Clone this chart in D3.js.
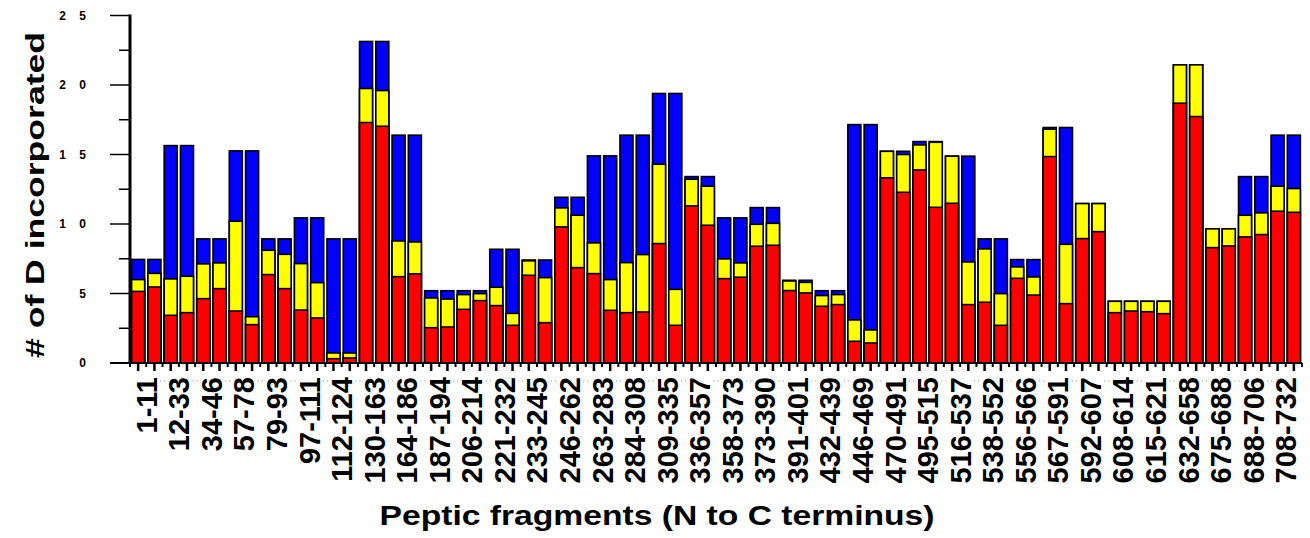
<!DOCTYPE html>
<html>
<head>
<meta charset="utf-8">
<script src="https://cdn.jsdelivr.net/npm/d3@7"></script>
<style>
  body { margin: 0; background: #fff; }
  text { font-family: "Liberation Sans", Arial, sans-serif; font-weight: bold; }
</style>
</head>
<body>
<div id="vis"></div>
<script>
// peptic fragments, two bars each
const fragments = ["1-11","12-33","34-46","57-78","79-93","97-111","112-124","130-163","164-186",
  "187-194","206-214","221-232","233-245","246-262","263-283","284-308","309-335","336-357",
  "358-373","373-390","391-401","432-439","446-469","470-491","495-515","516-537","538-552",
  "556-566","567-591","592-607","608-614","615-621","632-658","675-688","688-706","708-732"];

// cumulative levels (# of D), bar by bar
const redLevel = [5.15,5.47, 3.43,3.62, 4.63,5.35, 3.74,2.76, 6.36,5.35, 3.81,3.24, 0.31,0.36,
  17.3,17.03, 6.21,6.41, 2.54,2.59, 3.86,4.49, 4.13,2.71, 6.31,2.9, 9.79,6.86, 6.43,3.79,
  3.62,3.67, 8.59,2.71, 11.3,9.91, 6.07,6.17, 8.4,8.47, 5.21,5.04, 4.08,4.2, 1.56,1.44,
  13.32,12.28, 13.89,11.2, 11.49,4.2, 4.37,2.71, 6.09,4.89, 14.85,4.27, 8.95,9.45,
  3.62,3.74, 3.69,3.55, 18.69,17.73, 8.3,8.42, 9.07,9.24, 10.92,10.84];

const yellowLevel = [6.0,6.45, 6.05,6.24, 7.13,7.2, 10.2,3.33, 8.11,7.82, 7.15,5.78, 0.72,0.72,
  19.75,19.6, 8.78,8.71, 4.68,4.6, 4.92,4.99, 5.45,3.57, 7.35,6.14, 11.16,10.63, 8.64,6.0,
  7.22,7.8, 14.3,5.3, 13.22,12.72, 7.49,7.2, 9.98,10.05, 5.9,5.8, 4.85,4.92, 3.1,2.38,
  15.23,15.0, 15.69,15.88, 14.88,7.27, 8.21,4.99, 6.91,6.19, 16.82,8.54, 11.47,11.47,
  4.44,4.44, 4.44,4.44, 21.45,21.45, 9.65,9.65, 10.63,10.8, 12.72,12.55];

const blueLevel = [7.45,7.45, 15.64,15.64, 8.93,8.93, 15.26,15.26, 8.93,8.93, 10.44,10.44, 8.93,8.93,
  23.13,23.13, 16.39,16.39, 5.2,5.2, 5.2,5.2, 8.18,8.18, 7.41,7.41, 11.92,11.92, 14.9,14.9,
  16.39,16.39, 19.39,19.39, 13.41,13.41, 10.44,10.44, 11.18,11.18, 5.95,5.95, 5.2,5.2, 17.15,17.15,
  15.23,15.23, 15.93,15.93, 14.88,14.88, 8.93,8.93, 7.44,7.44, 16.94,16.94, 11.47,11.47,
  4.44,4.44, 4.44,4.44, 21.45,21.45, 9.65,9.65, 13.41,13.41, 16.39,16.39];

const yTicks = [0, 5, 10, 15, 20, 25];

var width = 1310, height = 538;

var svg = d3.select('#vis').append('svg')
  .attr("width", width)
  .attr("height", height);

var y = d3.scaleLinear().domain([0, 25]).range([363, 15.5]);

var barIds = d3.range(redLevel.length);
var x = d3.scaleBand().domain(barIds).range([130, 1302]).paddingInner(0.2).paddingOuter(0.1);

// bars: draw full (blue) first, then yellow and red on top
var layers = [
  {vals: blueLevel, color: "#0000ff"},
  {vals: yellowLevel, color: "#ffff00"},
  {vals: redLevel, color: "#ff0000"}
];

layers.forEach(function(l) {
  svg.append("g").selectAll("rect")
    .data(barIds)
    .enter()
    .append("rect")
    .attr("x", d => x(d))
    .attr("width", x.bandwidth())
    .attr("y", d => y(l.vals[d]))
    .attr("height", d => y(0) - y(l.vals[d]))
    .attr("fill", l.color)
    .attr("stroke", "#000")
    .attr("stroke-width", 1.6);
});

// y axis
var yAxis = svg.append("g");
yAxis.append("line")
  .attr("x1", 130).attr("x2", 130)
  .attr("y1", y(25) - 1).attr("y2", y(0) + 1)
  .attr("stroke", "#000").attr("stroke-width", 3);

yAxis.selectAll(".major")
  .data(yTicks)
  .enter().append("line")
  .attr("x1", 110).attr("x2", 130)
  .attr("y1", d => y(d)).attr("y2", d => y(d))
  .attr("stroke", "#000").attr("stroke-width", 1.5);

yAxis.selectAll(".minor")
  .data(d3.range(2.5, 25, 5))
  .enter().append("line")
  .attr("x1", 119).attr("x2", 130)
  .attr("y1", d => y(d)).attr("y2", d => y(d))
  .attr("stroke", "#000").attr("stroke-width", 1.5);

// tick labels: digits spread apart like the original
yTicks.forEach(function(t) {
  var digits = String(t).split("").reverse();
  digits.forEach(function(ch, k) {
    yAxis.append("text")
      .attr("x", 86 - k * 20)
      .attr("y", y(t))
      .attr("dy", "0.36em")
      .attr("text-anchor", "end")
      .style("font-size", "12px")
      .text(ch);
  });
});

// x axis baseline and ticks
svg.append("line")
  .attr("x1", 110).attr("x2", 1302)
  .attr("y1", y(0)).attr("y2", y(0))
  .attr("stroke", "#000").attr("stroke-width", 2);

svg.append("g").selectAll("line")
  .data(barIds)
  .enter().append("line")
  .attr("x1", d => x(d) + x.bandwidth() / 2)
  .attr("x2", d => x(d) + x.bandwidth() / 2)
  .attr("y1", y(0)).attr("y2", y(0) + 8)
  .attr("stroke", "#000").attr("stroke-width", 2.5);

svg.append("g").selectAll("line")
  .data(d3.range(barIds.length + 1))
  .enter().append("line")
  .attr("x1", d => x.range()[0] + x.step() * d)
  .attr("x2", d => x.range()[0] + x.step() * d)
  .attr("y1", y(0)).attr("y2", y(0) + 4)
  .attr("stroke", "#000").attr("stroke-width", 2);

// little dotted separators between labels
svg.append("g").selectAll("line")
  .data(d3.range(1, fragments.length))
  .enter().append("line")
  .attr("x1", d => x(d * 2) - 4)
  .attr("x2", d => x(d * 2) + 2)
  .attr("y1", 381).attr("y2", 381)
  .attr("stroke", "#888").attr("stroke-width", 1)
  .attr("stroke-dasharray", "1,3");

// fragment labels, one per pair
svg.append("g").selectAll("text")
  .data(fragments)
  .enter().append("text")
  .attr("transform", (d, i) => {
    var cx = (x(i * 2) + x(i * 2 + 1) + x.bandwidth()) / 2;
    return "translate(" + cx + ",377) rotate(-90)";
  })
  .attr("dy", "0.36em")
  .attr("text-anchor", "end")
  .style("font-size", "29px")
  .text(d => d);

// titles
svg.append("text")
  .attr("x", 657)
  .attr("y", 525)
  .attr("text-anchor", "middle")
  .attr("textLength", 555)
  .attr("lengthAdjust", "spacingAndGlyphs")
  .style("font-size", "28px")
  .text("Peptic fragments (N to C terminus)");

svg.append("text")
  .attr("transform", "translate(44,195) rotate(-90)")
  .attr("text-anchor", "middle")
  .attr("textLength", 326)
  .attr("lengthAdjust", "spacingAndGlyphs")
  .style("font-size", "26px")
  .text("# of D incorporated");
</script>
</body>
</html>
